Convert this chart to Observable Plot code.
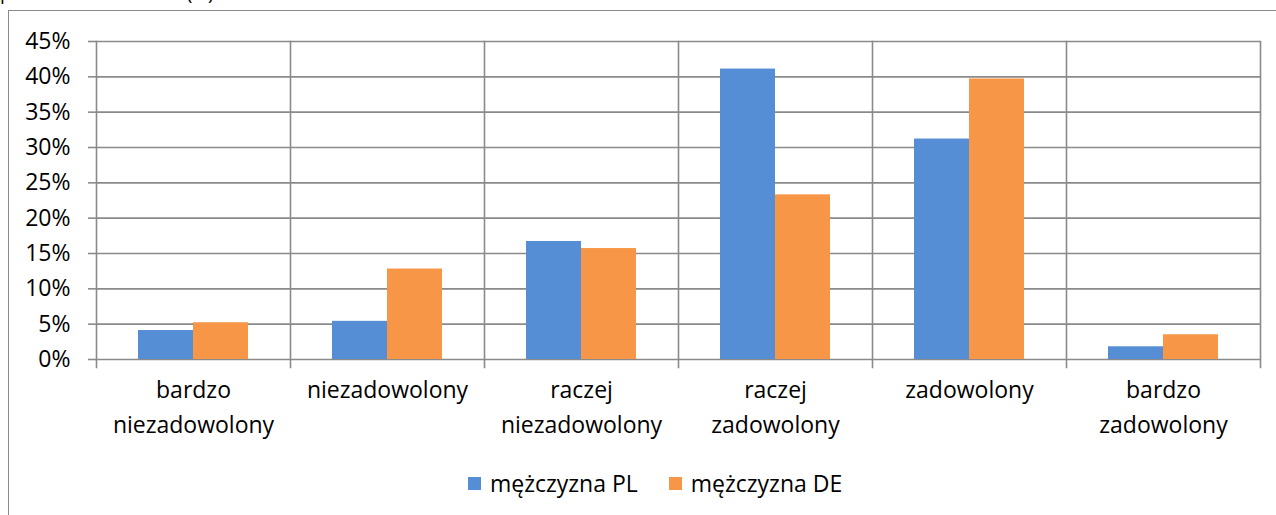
<!DOCTYPE html>
<html>
<head>
<meta charset="utf-8">
<script src="https://cdn.jsdelivr.net/npm/d3@7"></script>
<script src="https://cdn.jsdelivr.net/npm/@observablehq/plot@0.6"></script>
<style>
  html, body { margin: 0; padding: 0; width: 1276px; height: 515px; overflow: hidden; background: #fff; }
  body { position: relative; font-family: "Open Sans", sans-serif; color: #000; }
  #title { position: absolute; left: 0; top: -19px; font-size: 19px; line-height: 24px; white-space: nowrap; }
  #box { position: absolute; left: 8px; top: 10px; width: 1400px; height: 700px; border-left: 1.5px solid #8a8a8a; border-top: 1.5px solid #8a8a8a; }
  #chart { position: absolute; left: 0; top: 0; }
  #legend { position: absolute; left: 468px; top: 469px; display: flex; align-items: center; font-size: 23px; line-height: 28px; white-space: nowrap; }
  .item { display: flex; align-items: center; margin-right: 31px; }
  .sw { width: 13px; height: 13px; margin-right: 9px; }
</style>
</head>
<body>
<div id="title">poziom zadowolenia (%)</div>
<div id="box"></div>
<div id="chart"></div>
<div id="legend"></div>
<script>
const categories = ["bardzo niezadowolony", "niezadowolony", "raczej niezadowolony", "raczej zadowolony", "zadowolony", "bardzo zadowolony"];
const seriesNames = ["mężczyzna PL", "mężczyzna DE"];
const valuesPL = [4.1, 5.4, 16.7, 41.1, 31.2, 1.8];
const valuesDE = [5.2, 12.8, 15.7, 23.3, 39.7, 3.5];
const seriesColors = ["#558ed5", "#f79646"];
const yTicks = [0, 5, 10, 15, 20, 25, 30, 35, 40, 45];

const data = categories.flatMap((c, i) => [
  {category: c, series: seriesNames[0], value: valuesPL[i] / 100},
  {category: c, series: seriesNames[1], value: valuesDE[i] / 100}
]);
const gridColor = "#8a8a8a";
const tickValues = yTicks.map(d => d / 100);

const plot = Plot.plot({
  width: 1276,
  height: 450,
  marginLeft: 96,
  marginRight: 16,
  marginTop: 41,
  marginBottom: 91,
  style: {fontFamily: "Open Sans, sans-serif", fontSize: "23px", color: "#000", background: "transparent", overflow: "visible"},
  fx: {domain: categories, padding: 0, axis: null},
  x: {domain: seriesNames, paddingInner: 0, paddingOuter: 0.75, axis: null},
  y: {domain: [0, 0.45], axis: null},
  color: {domain: seriesNames, range: seriesColors},
  marks: [
    Plot.ruleY(tickValues, {stroke: gridColor, strokeWidth: 1.6}),
    Plot.frame({anchor: "left", stroke: gridColor, strokeWidth: 1.6, insetBottom: -8}),
    Plot.frame({anchor: "right", facetAnchor: "right", stroke: gridColor, strokeWidth: 1.6, insetBottom: -8}),
    Plot.axisY({ticks: tickValues, tickFormat: d3.format(".0%"), tickSize: 8, tickPadding: 18, stroke: gridColor, strokeWidth: 1.6, fill: "#000", fontSize: 23, label: null}),
    Plot.barY(data, {fx: "category", x: "series", y: "value", fill: "series"}),
    Plot.text(categories, {fx: d => d, text: d => d.split(" ").join("\n"), frameAnchor: "bottom", lineAnchor: "top", dy: 13, lineHeight: 1.55, fontSize: 23, fill: "#000"})
  ]
});
document.getElementById("chart").appendChild(plot);

const legend = document.getElementById("legend");
seriesNames.forEach((s, i) => {
  const item = document.createElement("div");
  item.className = "item";
  const sw = document.createElement("div");
  sw.className = "sw";
  sw.style.background = seriesColors[i];
  const t = document.createElement("span");
  t.textContent = s;
  item.appendChild(sw);
  item.appendChild(t);
  legend.appendChild(item);
});
</script>
</body>
</html>
